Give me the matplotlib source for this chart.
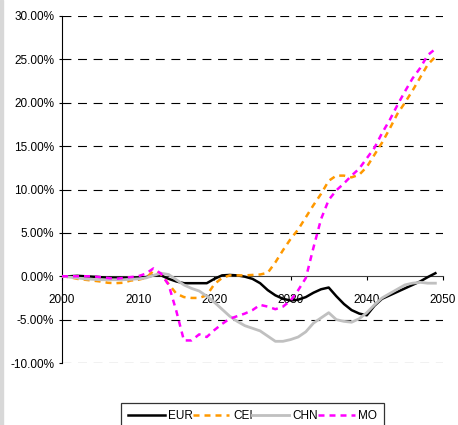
import matplotlib
matplotlib.use("Agg")
import matplotlib.pyplot as plt
from matplotlib import font_manager
from matplotlib.patches import Rectangle
import numpy as np

# Annual deviation from baseline (%), 2000-2049
years = list(range(2000, 2050))

eur = [0.0, 0.0, 0.05, 0.0, -0.05, -0.1, -0.2, -0.2, -0.2, -0.2,
       -0.15, -0.1, 0.1, 0.1, -0.3, -0.6, -0.8, -0.8, -0.8, -0.8,
       -0.3, 0.1, 0.15, 0.1, -0.05, -0.3, -0.8, -1.6, -2.2, -2.6,
       -2.8, -2.7, -2.4, -1.9, -1.5, -1.3, -2.3, -3.2, -3.9, -4.3,
       -4.5, -3.4, -2.6, -2.2, -1.8, -1.4, -1.0, -0.6, -0.1, 0.35]

cei = [0.0, -0.1, -0.3, -0.4, -0.5, -0.6, -0.75, -0.8, -0.75, -0.5,
       -0.4, -0.2, 0.6, 0.2, -0.9, -2.0, -2.4, -2.5, -2.5, -2.2,
       -0.9, -0.2, 0.1, 0.1, 0.1, 0.15, 0.2, 0.4, 1.6, 3.0,
       4.3, 5.4, 6.8, 8.2, 9.5, 11.0, 11.6, 11.6, 11.4, 11.7,
       12.6, 14.0, 15.4, 17.0, 18.7, 20.0, 21.4, 22.9, 24.4, 25.3]

chn = [0.0, -0.1, -0.2, -0.3, -0.35, -0.4, -0.4, -0.4, -0.4, -0.35,
       -0.3, -0.2, 0.1, 0.35, 0.2, -0.4, -1.0, -1.4, -1.7, -2.3,
       -3.0, -3.8, -4.6, -5.2, -5.7, -6.0, -6.3, -6.9, -7.5, -7.5,
       -7.3, -7.0, -6.4, -5.4, -4.8, -4.2, -5.0, -5.2, -5.3, -4.9,
       -4.2, -3.3, -2.5, -2.0, -1.5, -1.0, -0.8, -0.7, -0.8, -0.8]

mo = [0.0, 0.0, 0.0, 0.0, 0.0, -0.1, -0.2, -0.3, -0.2, -0.1,
      0.0, 0.3, 0.9, 0.3, -1.0, -4.0, -7.4, -7.4, -6.7, -7.0,
      -6.2, -5.5, -4.9, -4.6, -4.3, -3.9, -3.3, -3.5, -3.8, -3.5,
      -2.8, -1.6, -0.2, 3.3, 6.6, 8.8, 9.9, 10.7, 11.6, 12.4,
      13.6, 14.8, 16.5, 18.0, 19.7, 21.3, 22.8, 24.0, 25.5, 26.2]

series_names = ["EUR", "CEI", "CHN", "MO"]
x_ticks = [2000, 2010, 2020, 2030, 2040, 2050]
y_ticks = [-10, -5, 0, 5, 10, 15, 20, 25, 30]

# Font: narrow sans if available
available = {f.name for f in font_manager.fontManager.ttflist}
if "Liberation Sans Narrow" in available:
    fam, fs = "Liberation Sans Narrow", 9.5
else:
    fam, fs = "Liberation Sans", 8.5
plt.rcParams["font.family"] = [fam, "DejaVu Sans"]

W, H = 458, 425
fig = plt.figure(figsize=(W / 100, H / 100), dpi=100)
ax = fig.add_axes([62 / W, 1 - 363 / H, 381 / W, 347 / H])

ax.set_xlim(2000, 2050)
ax.set_ylim(-10, 30)

# Dashed horizontal gridlines
for v in y_ticks:
    if v != 0:
        ax.axhline(v, color="black", lw=0.8, ls=(0, (8, 6)), zorder=1)

lw = 1.8
ax.plot(years, eur, color="black", lw=lw, label="EUR", zorder=3)
ax.plot(years, cei, color="#FF9900", lw=lw, ls=(0, (2.4, 2.0)), label="CEI", zorder=4)
ax.plot(years, chn, color="#C0C0C0", lw=2.0, label="CHN", zorder=5)
ax.plot(years, mo, color="#FF00FF", lw=lw, ls=(0, (2.4, 2.0)), label="MO", zorder=6)

for s in ["top", "right"]:
    ax.spines[s].set_visible(False)
ax.spines["bottom"].set_position(("data", 0))
ax.spines["bottom"].set_color("#404040")
ax.spines["bottom"].set_linewidth(0.8)
ax.spines["left"].set_linewidth(0.8)

ax.set_xticks(x_ticks)
ax.set_xticklabels([str(t) for t in x_ticks])
ax.set_yticks(y_ticks)
ax.set_yticklabels([f"{t:.2f}%" for t in y_ticks])
ax.tick_params(axis="x", direction="out", length=3, width=0.8, pad=10, labelsize=fs)
ax.tick_params(axis="y", direction="out", length=2.5, width=0.8, pad=3, labelsize=fs)
for lbl in ax.get_xticklabels():
    lbl.set_zorder(2)

leg = fig.legend(loc="lower left", bbox_to_anchor=(121 / W, -4 / H, (384 - 121) / W, 31 / H),
                 mode="expand", ncol=4, frameon=True, fancybox=False, fontsize=fs,
                 handlelength=3.1, handletextpad=0.3, columnspacing=0.5,
                 borderaxespad=0.0, borderpad=0.6)
leg.get_frame().set_edgecolor("black")
leg.get_frame().set_linewidth(0.9)

# Light border at the left edge of the figure
fig.patches.append(Rectangle((0, 0), 2.5 / W, 1, transform=fig.transFigure,
                             color="#D8D8D8", zorder=0))

fig.savefig("out.png", dpi=100)
